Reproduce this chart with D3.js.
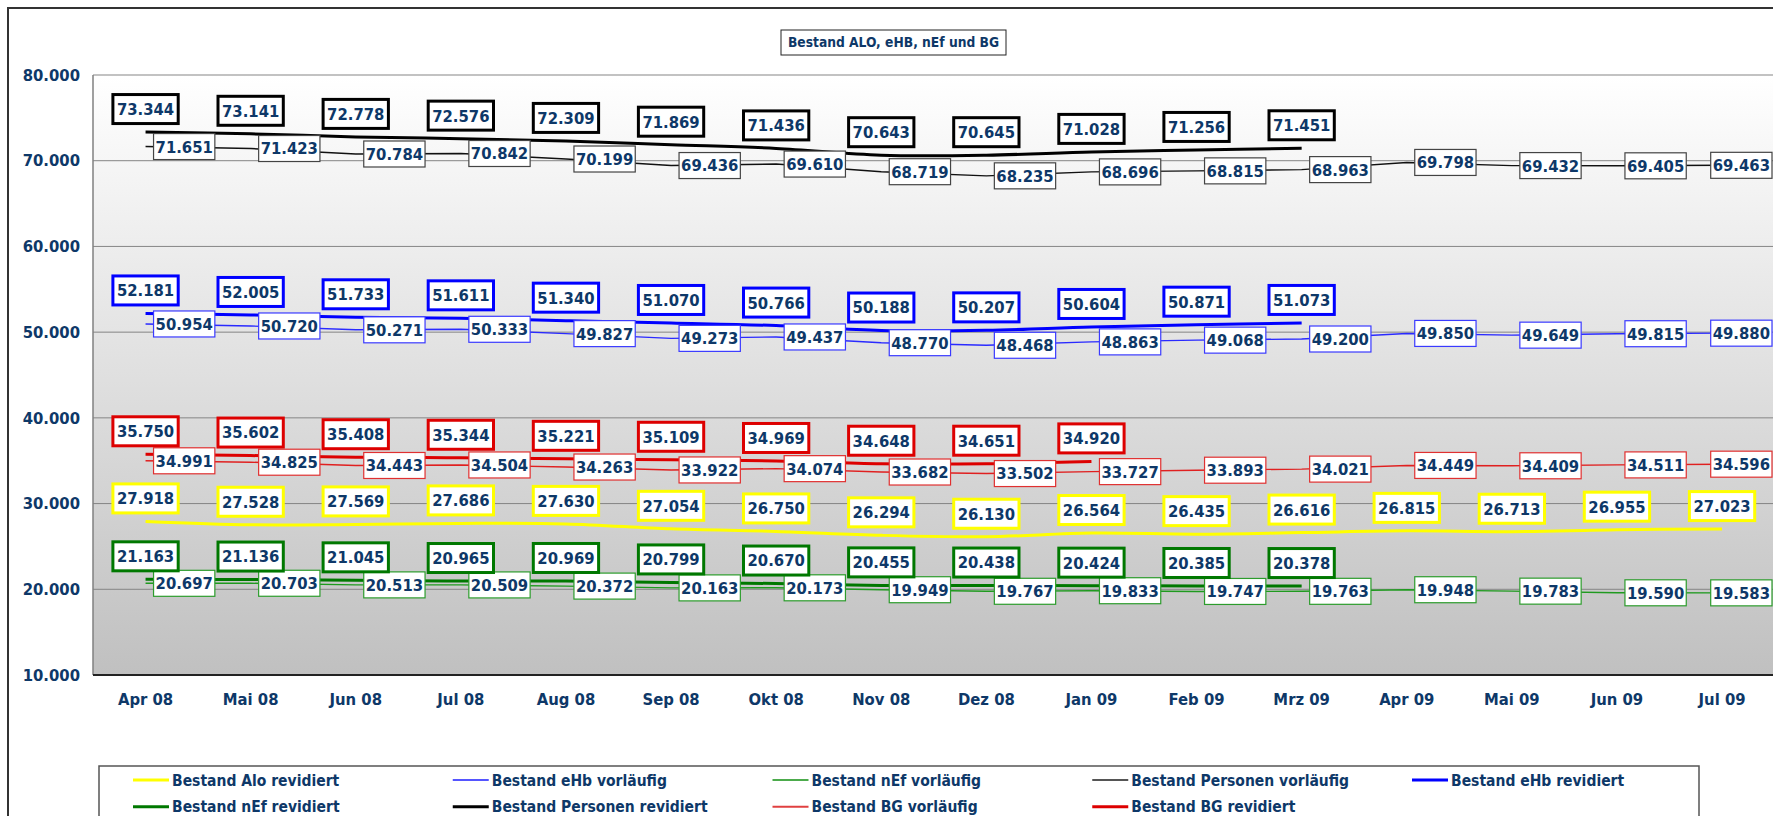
<!DOCTYPE html>
<html>
<head>
<meta charset="utf-8">
<script src="https://cdn.jsdelivr.net/npm/d3@7"></script>
<style>
  body { margin: 0; background: #fff; }
  svg text {
    font-family: "DejaVu Sans Condensed", "DejaVu Sans", sans-serif;
    font-stretch: condensed;
    font-weight: bold;
    fill: #0e3868;
  }
</style>
</head>
<body>
<svg id="chart" width="1773" height="816"></svg>
<script>
// Categories and tick values
const months = ["Apr 08", "Mai 08", "Jun 08", "Jul 08", "Aug 08", "Sep 08", "Okt 08", "Nov 08",
    "Dez 08", "Jan 09", "Feb 09", "Mrz 09", "Apr 09", "Mai 09", "Jun 09", "Jul 09"];
const yTickValues = [10000, 20000, 30000, 40000, 50000, 60000, 70000, 80000];

// Series values
const personenRevidiert = [73344, 73141, 72778, 72576, 72309, 71869, 71436, 70643, 70645, 71028, 71256, 71451];
const personenVorlaeufig = [71651, 71423, 70784, 70842, 70199, 69436, 69610, 68719, 68235, 68696, 68815, 68963, 69798, 69432, 69405, 69463];
const ehbRevidiert = [52181, 52005, 51733, 51611, 51340, 51070, 50766, 50188, 50207, 50604, 50871, 51073];
const ehbVorlaeufig = [50954, 50720, 50271, 50333, 49827, 49273, 49437, 48770, 48468, 48863, 49068, 49200, 49850, 49649, 49815, 49880];
const bgRevidiert = [35750, 35602, 35408, 35344, 35221, 35109, 34969, 34648, 34651, 34920];
const bgVorlaeufig = [34991, 34825, 34443, 34504, 34263, 33922, 34074, 33682, 33502, 33727, 33893, 34021, 34449, 34409, 34511, 34596];
const aloRevidiert = [27918, 27528, 27569, 27686, 27630, 27054, 26750, 26294, 26130, 26564, 26435, 26616, 26815, 26713, 26955, 27023];
const nefRevidiert = [21163, 21136, 21045, 20965, 20969, 20799, 20670, 20455, 20438, 20424, 20385, 20378];
const nefVorlaeufig = [20697, 20703, 20513, 20509, 20372, 20163, 20173, 19949, 19767, 19833, 19747, 19763, 19948, 19783, 19590, 19583];

// Legend order as in the chart
const legendNames = [
    "Bestand Alo revidiert", "Bestand eHb vorläufig", "Bestand nEf vorläufig", "Bestand Personen vorläufig", "Bestand eHb revidiert",
    "Bestand nEf revidiert", "Bestand Personen revidiert", "Bestand BG vorläufig", "Bestand BG revidiert"
];

// Series table
const series = [
    { name: "Bestand Personen vorläufig", values: personenVorlaeufig, rev: false, color: "#111111", legend: "#555555", box: "#444444" },
    { name: "Bestand eHb vorläufig", values: ehbVorlaeufig, rev: false, color: "#2a2aff", legend: "#5555ff", box: "#3a3aff" },
    { name: "Bestand BG vorläufig", values: bgVorlaeufig, rev: false, color: "#e02020", legend: "#e04040", box: "#e03030" },
    { name: "Bestand nEf vorläufig", values: nefVorlaeufig, rev: false, color: "#1f9a1f", legend: "#4cab4c", box: "#2c9c2c" },
    { name: "Bestand Personen revidiert", values: personenRevidiert, rev: true, color: "#000000", legend: "#000000", box: "#000000" },
    { name: "Bestand eHb revidiert", values: ehbRevidiert, rev: true, color: "#0000ff", legend: "#0000ff", box: "#0000ff" },
    { name: "Bestand BG revidiert", values: bgRevidiert, rev: true, color: "#dd0000", legend: "#dd0000", box: "#dd0000" },
    { name: "Bestand Alo revidiert", values: aloRevidiert, rev: true, color: "#ffff00", legend: "#ffff00", box: "#ffff00" },
    { name: "Bestand nEf revidiert", values: nefRevidiert, rev: true, color: "#007800", legend: "#007800", box: "#007800" }
];

const svg = d3.select("#chart");
const W = 1773;
const plotLeft = 93, plotTop = 75, plotBottom = 675;
const step = 105.1;

const de = d3.formatLocale({ decimal: ",", thousands: ".", grouping: [3], currency: ["", " €"] });
const fmt = de.format(",d");

const x = d3.scaleBand()
    .domain(months)
    .range([plotLeft, plotLeft + step * months.length])
    .padding(0);
const y = d3.scaleLinear()
    .domain([10000, 80000])
    .range([plotBottom, plotTop]);
const cx = m => x(m) + x.bandwidth() / 2;

// Outer chart frame
svg.append("rect")
    .attr("x", 8).attr("y", 8)
    .attr("width", 1800).attr("height", 900)
    .attr("fill", "#fff")
    .attr("stroke", "#333").attr("stroke-width", 2);

// Plot background gradient
const defs = svg.append("defs");
const grad = defs.append("linearGradient")
    .attr("id", "plotGrad")
    .attr("x1", "0%").attr("x2", "0%")
    .attr("y1", "0%").attr("y2", "100%");
grad.append("stop").attr("offset", "0%").attr("stop-color", "#ffffff");
grad.append("stop").attr("offset", "100%").attr("stop-color", "#c0c0c0");

svg.append("rect")
    .attr("x", plotLeft).attr("y", plotTop)
    .attr("width", W - plotLeft + 10).attr("height", plotBottom - plotTop)
    .attr("fill", "url(#plotGrad)");

// Gridlines
svg.append("g")
    .selectAll("line")
    .data(yTickValues.filter(d => d > 10000))
    .enter()
    .append("line")
    .attr("x1", plotLeft).attr("x2", W + 10)
    .attr("y1", d => y(d)).attr("y2", d => y(d))
    .attr("stroke", "#858585").attr("stroke-width", 1);

// Axis lines
svg.append("line")
    .attr("x1", plotLeft).attr("x2", plotLeft)
    .attr("y1", plotTop).attr("y2", plotBottom)
    .attr("stroke", "#808080").attr("stroke-width", 1.5);
svg.append("line")
    .attr("x1", plotLeft).attr("x2", W + 10)
    .attr("y1", plotBottom).attr("y2", plotBottom)
    .attr("stroke", "#222").attr("stroke-width", 2);

// Y axis labels
const yAxis = d3.axisLeft(y)
    .tickValues(yTickValues)
    .tickFormat(fmt)
    .tickSize(0)
    .tickPadding(plotLeft - 80);
const yG = svg.append("g")
    .attr("transform", `translate(${plotLeft},0)`)
    .call(yAxis);
yG.select(".domain").remove();
yG.selectAll("text")
    .attr("font-size", 16.5)
    .style("font-family", null);

// X axis labels
const xAxis = d3.axisBottom(x).tickSize(0).tickPadding(0);
const xG = svg.append("g")
    .attr("transform", `translate(0,${plotBottom})`)
    .call(xAxis);
xG.select(".domain").remove();
xG.selectAll("text")
    .attr("font-size", 16.5)
    .attr("y", 24)
    .attr("dy", "0.35em");

// Lines
const lineLinear = d3.line()
    .x((d, i) => cx(months[i]))
    .y(d => y(d));
const lineSmooth = d3.line()
    .x((d, i) => cx(months[i]))
    .y(d => y(d))
    .curve(d3.curveCatmullRom.alpha(0.5));

svg.append("g")
    .selectAll("path")
    .data(series)
    .enter()
    .append("path")
    .attr("d", d => (d.rev ? lineSmooth : lineLinear)(d.values))
    .attr("fill", "none")
    .attr("stroke", d => d.color)
    .attr("stroke-width", d => d.rev ? 3 : 1.4);

// Data labels
const labelLayer = svg.append("g");
series.forEach(s => {
    s.values.forEach((v, i) => {
        const px = cx(months[i]);
        const py = y(v);
        const g = labelLayer.append("g");
        const t = g.append("text")
            .attr("font-size", 16.5)
            .attr("text-anchor", "middle")
            .attr("dy", "0.36em")
            .text(fmt(v));
        const tw = t.node().getComputedTextLength();
        if (s.rev) {
            const bw = tw + 8, bh = 29;
            const cy = py - 23;
            g.insert("rect", "text")
                .attr("x", px - bw / 2).attr("y", cy - bh / 2)
                .attr("width", bw).attr("height", bh)
                .attr("fill", "#fff")
                .attr("stroke", s.box).attr("stroke-width", 3);
            t.attr("x", px).attr("y", cy);
        } else {
            const bw = tw + 4, bh = 26;
            let bx = px + 8;
            if (bx + bw > W - 1) bx = W - 1 - bw;
            g.insert("rect", "text")
                .attr("x", bx).attr("y", py - bh / 2)
                .attr("width", bw).attr("height", bh)
                .attr("fill", "#fff")
                .attr("stroke", s.box).attr("stroke-width", 1.2);
            t.attr("x", bx + bw / 2).attr("y", py);
        }
    });
});

// Title
const title = svg.append("g");
title.append("rect")
    .attr("x", 781).attr("y", 30)
    .attr("width", 225).attr("height", 25)
    .attr("fill", "#fff")
    .attr("stroke", "#222").attr("stroke-width", 1);
title.append("text")
    .attr("x", 893.5).attr("y", 42.5)
    .attr("dy", "0.36em")
    .attr("text-anchor", "middle")
    .attr("font-size", 13.7)
    .text("Bestand ALO, eHB, nEf und BG");

// Legend
const legend = svg.append("g");
legend.append("rect")
    .attr("x", 99).attr("y", 766)
    .attr("width", 1600).attr("height", 80)
    .attr("fill", "#fff")
    .attr("stroke", "#555").attr("stroke-width", 1.5);

legendNames.forEach((name, k) => {
    const s = series.find(d => d.name === name);
    const col = k % 5, row = Math.floor(k / 5);
    const tx = 172 + col * 319.75;
    const ty = 780 + row * 26.7;
    legend.append("line")
        .attr("x1", tx - 39).attr("x2", tx - 3)
        .attr("y1", ty).attr("y2", ty)
        .attr("stroke", s.legend)
        .attr("stroke-width", s.rev ? 3 : 2);
    legend.append("text")
        .attr("x", tx).attr("y", ty)
        .attr("dy", "0.36em")
        .attr("font-size", 15.5)
        .text(name);
});
</script>
</body>
</html>
